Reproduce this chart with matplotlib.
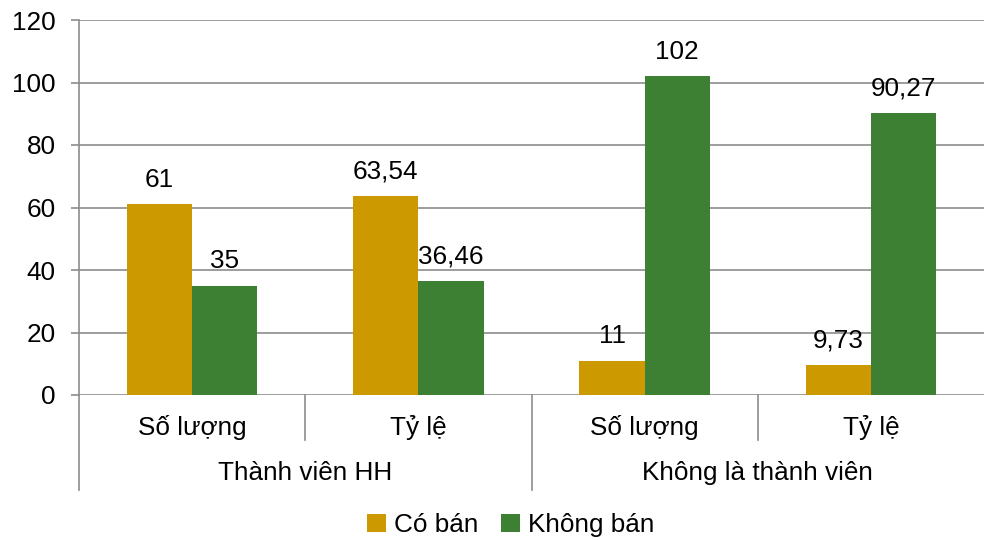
import matplotlib
matplotlib.use("Agg")
import matplotlib.pyplot as plt
import numpy as np
from matplotlib.lines import Line2D
from matplotlib.patches import Patch

plt.rcParams['font.family'] = ['Liberation Sans', 'DejaVu Sans']

# Data
groups = ["Thành viên HH", "Không là thành viên"]
subcats = ["Số lượng", "Tỷ lệ", "Số lượng", "Tỷ lệ"]
co_ban = [61, 63.54, 11, 9.73]
khong_ban = [35, 36.46, 102, 90.27]
series_names = ["Có bán", "Không bán"]
colors = ["#CC9A00", "#3D7F33"]
y_ticks = [0, 20, 40, 60, 80, 100, 120]


def fmt(v):
    s = f"{v:.2f}".rstrip("0").rstrip(".")
    return s.replace(".", ",")


fig = plt.figure(figsize=(9.84, 5.40), dpi=100)
ax = fig.add_axes([79 / 984, 145 / 540, 905 / 984, 375 / 540])

grid_col = "#8C8C8C"
fs = 18.8

x = np.arange(len(subcats))
w = 0.288
b1 = ax.bar(x - w / 2, co_ban, width=w, color=colors[0], zorder=3)
b2 = ax.bar(x + w / 2, khong_ban, width=w, color=colors[1], zorder=3)

for bars, vals in ((b1, co_ban), (b2, khong_ban)):
    for rect, v in zip(bars, vals):
        ax.annotate(fmt(v), (rect.get_x() + rect.get_width() / 2, v),
                    xytext=(0, 9), textcoords="offset points",
                    ha="center", va="bottom", fontsize=fs, color="#000000")

ax.set_xlim(-0.5, len(subcats) - 0.5)
ax.set_ylim(0, 120)
ax.set_yticks(y_ticks)
ax.set_yticklabels([str(t) for t in y_ticks], fontsize=fs)
ax.tick_params(axis="y", length=6, width=1.2, color=grid_col, pad=11)
ax.set_xticks([])
ax.yaxis.grid(True, color=grid_col, linewidth=1.2, zorder=0)

for side in ("top", "right", "bottom"):
    ax.spines[side].set_visible(False)
ax.spines["left"].set_color(grid_col)
ax.spines["left"].set_linewidth(1.2)
ax.spines["left"].set_zorder(4)

# Multi-level category axis
axis_y_short = -0.12
axis_y_long = -0.253
tr = ax.get_xaxis_transform()
for i in range(len(subcats)):
    ax.text(i, -0.088, subcats[i], transform=tr, ha="center", va="center",
            fontsize=fs)
for i in range(1, len(subcats)):
    bottom = axis_y_long if i % 2 == 0 else axis_y_short
    ax.add_line(Line2D([i - 0.5, i - 0.5], [0, bottom], transform=tr,
                       color=grid_col, linewidth=1.2, clip_on=False))
ax.add_line(Line2D([-0.5, -0.5], [0, axis_y_long], transform=tr,
                   color=grid_col, linewidth=1.2, clip_on=False))
for g, name in enumerate(groups):
    ax.text(2 * g + 0.5, -0.208, name, transform=tr, ha="center",
            va="center", fontsize=fs)

handles = [Patch(facecolor=c, edgecolor="none") for c in colors]
fig.legend(handles, series_names, loc="center", bbox_to_anchor=(0.519, 15 / 540),
           ncol=2, frameon=False, fontsize=fs, handlelength=0.7,
           handleheight=0.7, handletextpad=0.3, columnspacing=0.9)

fig.savefig("out.png", dpi=100)
